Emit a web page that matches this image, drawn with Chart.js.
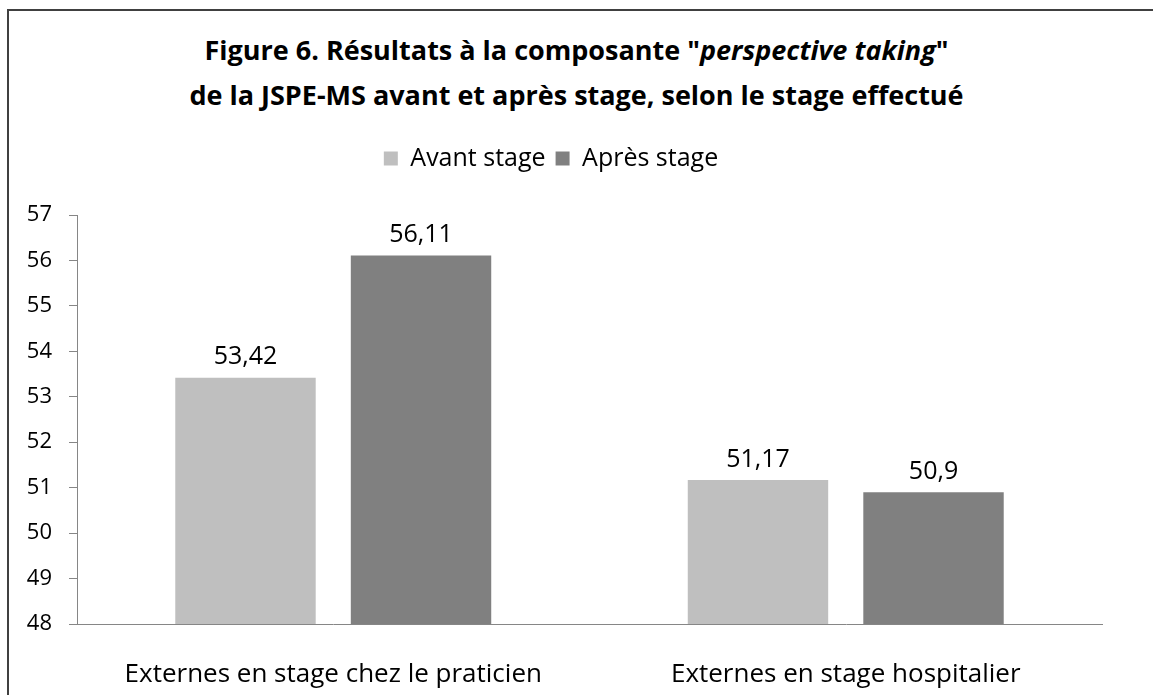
<!DOCTYPE html>
<html>
<head>
<meta charset="utf-8">
<title>Figure 6</title>
<script src="https://cdn.jsdelivr.net/npm/chart.js"></script>
<style>
  body { margin: 0; background: #fff; width: 1153px; height: 695px; overflow: hidden; position: relative; }
  #frame { position: absolute; left: 7px; top: 9px; width: 1300px; height: 900px; border: 2px solid #404040; }
  #title { position: absolute; top: 27px; left: 0; width: 1153px; text-align: center;
           font-family: 'Open Sans', sans-serif; font-weight: bold; font-size: 27px; line-height: 45px; color: #000; }
  #wrap { position: absolute; left: 0; top: 0; width: 1153px; height: 695px; }
</style>
</head>
<body>
<div id="frame"></div>
<div id="title">Figure 6. Résultats à la composante "<i>perspective taking</i>"<br>de la JSPE-MS avant et après stage, selon le stage effectué</div>
<div id="wrap"><canvas id="chart" width="1153" height="695"></canvas></div>
<script>
// data
const categories = ['Externes en stage chez le praticien', 'Externes en stage hospitalier'];
const seriesNames = ['Avant stage', 'Après stage'];
const avantStage = [53.42, 51.17];
const apresStage = [56.11, 50.9];
const yTicks = [48, 49, 50, 51, 52, 53, 54, 55, 56, 57];

const FONT = "'Open Sans', sans-serif";

// write values above bars with a comma decimal
const valueLabels = {
    id: 'valueLabels',
    afterDatasetsDraw(chart) {
        const ctx = chart.ctx;
        ctx.save();
        ctx.font = '25px ' + FONT;
        ctx.fillStyle = '#000';
        ctx.textAlign = 'center';
        ctx.textBaseline = 'bottom';
        chart.data.datasets.forEach((ds, i) => {
            chart.getDatasetMeta(i).data.forEach((bar, j) => {
                const txt = String(ds.data[j]).replace('.', ',');
                ctx.fillText(txt, bar.x, bar.y - 8);
            });
        });
        ctx.restore();
    }
};

// extra room under the legend
const legendGap = {
    id: 'legendGap',
    beforeInit(chart) {
        const fit = chart.legend.fit;
        chart.legend.fit = function () {
            fit.bind(chart.legend)();
            this.height += 34;
        };
    }
};

new Chart(document.getElementById('chart'), {
    type: 'bar',
    data: {
        labels: categories,
        datasets: [
            { label: seriesNames[0], data: avantStage, backgroundColor: '#BFBFBF' },
            { label: seriesNames[1], data: apresStage, backgroundColor: '#808080' }
        ]
    },
    options: {
        responsive: false,
        animation: false,
        layout: { padding: { top: 136, right: 51, left: 0, bottom: 0 } },
        datasets: { bar: { categoryPercentage: 0.685, barPercentage: 0.8 } },
        plugins: {
            legend: {
                position: 'top',
                labels: {
                    boxWidth: 14, boxHeight: 14, padding: 10,
                    color: '#000', font: { family: FONT, size: 25 }
                }
            },
            tooltip: { enabled: false }
        },
        scales: {
            x: {
                grid: { display: false },
                border: { color: '#868686', width: 1 },
                ticks: { color: '#000', padding: 27, font: { family: FONT, size: 26 } },
                afterFit(scale) { scale.height = 71; }
            },
            y: {
                min: yTicks[0],
                max: yTicks[yTicks.length - 1],
                afterBuildTicks(scale) { scale.ticks = yTicks.map(v => ({ value: v })); },
                grid: { drawOnChartArea: false, drawTicks: true, tickLength: 8, color: '#868686' },
                border: { color: '#868686', width: 1 },
                ticks: { color: '#000', padding: 17, font: { family: FONT, size: 22 } },
                afterFit(scale) { scale.width = 77; }
            }
        }
    },
    plugins: [valueLabels, legendGap]
});
</script>
</body>
</html>
